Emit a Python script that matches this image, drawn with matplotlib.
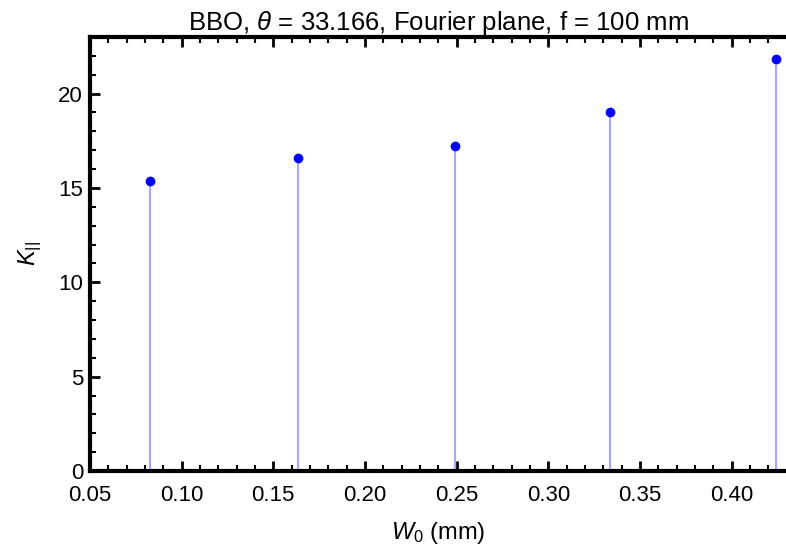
import matplotlib
matplotlib.use("Agg")
import matplotlib.pyplot as plt
from matplotlib.ticker import MultipleLocator

plt.rcParams["font.family"] = ["Liberation Sans", "DejaVu Sans"]
plt.rcParams["mathtext.fontset"] = "custom"
plt.rcParams["mathtext.rm"] = "Liberation Sans"
plt.rcParams["mathtext.it"] = "Liberation Sans:italic"

# beam waist (mm) and K values
w0 = [0.0827, 0.1635, 0.249, 0.3337, 0.424]
k_par = [15.35, 16.6, 17.25, 19.02, 21.85]

fig = plt.figure(figsize=(7.86, 5.48), dpi=100)
ax = fig.add_axes([90 / 786, 77 / 548, 696 / 786, 434 / 548])

ax.vlines(w0, 0, k_par, color="#a8a8ff", lw=1.5, zorder=2)
ax.plot(w0, k_par, "o", color="#0000ff", ms=6, zorder=3, clip_on=False)

ax.set_xlim(0.05, 0.4297)
ax.set_ylim(0, 23)
ax.xaxis.set_major_locator(MultipleLocator(0.05))
ax.xaxis.set_minor_locator(MultipleLocator(0.01))
ax.yaxis.set_major_locator(MultipleLocator(5))
ax.yaxis.set_minor_locator(MultipleLocator(1))
ax.xaxis.set_major_formatter(plt.FormatStrFormatter("%.2f"))

for s in ["left", "bottom", "top"]:
    ax.spines[s].set_linewidth(3)
ax.spines["right"].set_visible(False)

ax.tick_params(which="both", direction="in", top=True, right=False,
               labelsize=16)
ax.tick_params(axis="x", pad=10)
ax.tick_params(axis="y", pad=5)
ax.tick_params(which="major", length=7, width=2)
ax.tick_params(which="minor", length=4, width=1.5)

ax.set_title(r"BBO, $\it{\theta}$ = 33.166, Fourier plane, f = 100 mm",
             fontsize=18.5, pad=5)
ax.set_xlabel(r"$W_0$ (mm)", fontsize=17, labelpad=10)
ax.set_ylabel(r"$K_{||}$", fontsize=17, labelpad=10)

fig.savefig("out.png", dpi=100)
